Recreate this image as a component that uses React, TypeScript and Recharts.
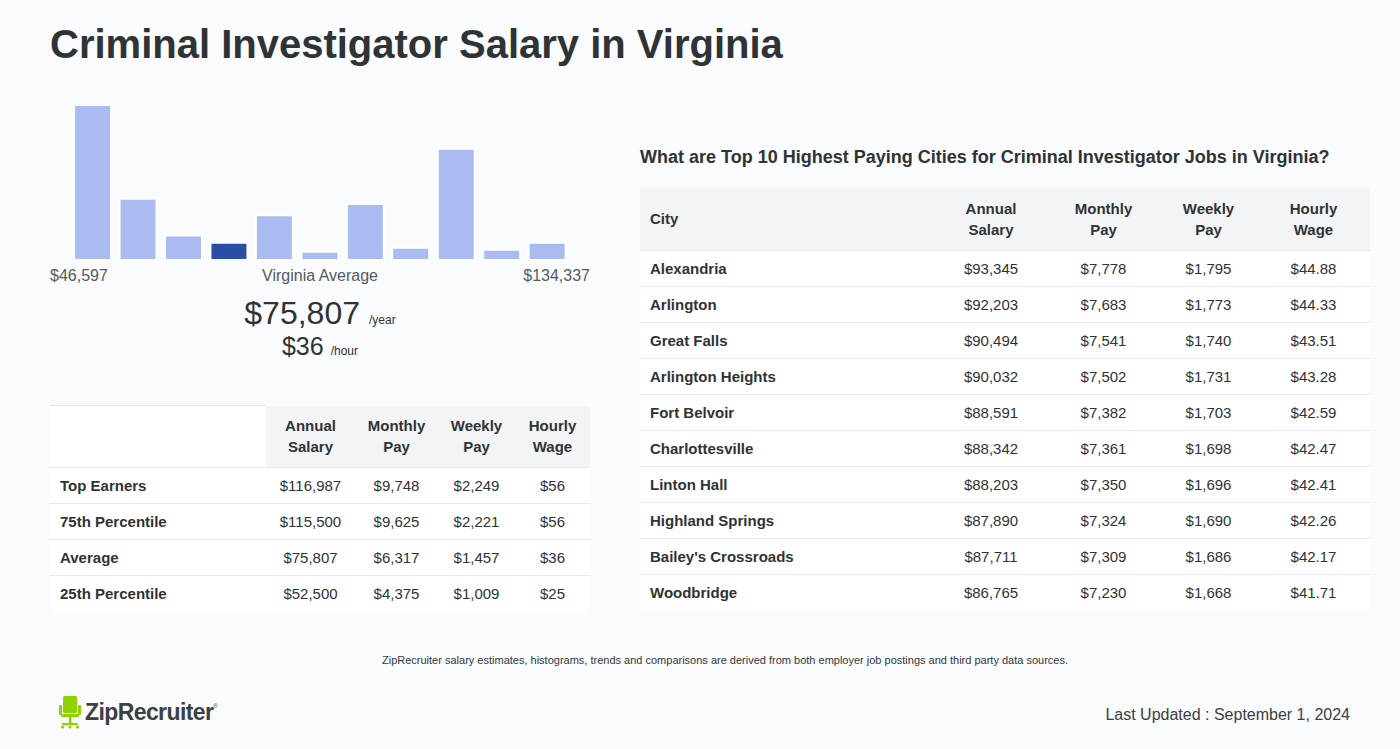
import React from "react";
import { Bar, BarChart, Cell, XAxis, YAxis } from "recharts";

// histogram bins (relative heights)
const binLabels = ["b1", "b2", "b3", "b4", "b5", "b6", "b7", "b8", "b9", "b10", "b11"];
const binCounts = [152, 60, 24, 17, 44, 8, 55, 12, 109, 10, 17];
const highlightBin = 3;

const rangeMin = "$46,597";
const rangeMax = "$134,337";
const avgYear = "$75,807";
const avgHour = "$36";

const payHeaders = [["Annual", "Salary"], ["Monthly", "Pay"], ["Weekly", "Pay"], ["Hourly", "Wage"]];

const percentileNames = ["Top Earners", "75th Percentile", "Average", "25th Percentile"];
const percentileAnnual = ["$116,987", "$115,500", "$75,807", "$52,500"];
const percentileMonthly = ["$9,748", "$9,625", "$6,317", "$4,375"];
const percentileWeekly = ["$2,249", "$2,221", "$1,457", "$1,009"];
const percentileHourly = ["$56", "$56", "$36", "$25"];

const cities = [
  "Alexandria",
  "Arlington",
  "Great Falls",
  "Arlington Heights",
  "Fort Belvoir",
  "Charlottesville",
  "Linton Hall",
  "Highland Springs",
  "Bailey's Crossroads",
  "Woodbridge"
];
const cityAnnual = ["$93,345", "$92,203", "$90,494", "$90,032", "$88,591", "$88,342", "$88,203", "$87,890", "$87,711", "$86,765"];
const cityMonthly = ["$7,778", "$7,683", "$7,541", "$7,502", "$7,382", "$7,361", "$7,350", "$7,324", "$7,309", "$7,230"];
const cityWeekly = ["$1,795", "$1,773", "$1,740", "$1,731", "$1,703", "$1,698", "$1,696", "$1,690", "$1,686", "$1,668"];
const cityHourly = ["$44.88", "$44.33", "$43.51", "$43.28", "$42.59", "$42.47", "$42.41", "$42.26", "$42.17", "$41.71"];

const histData = binLabels.map((bin, i) => ({ bin, count: binCounts[i] }));

const font = '"Liberation Sans", Arial, Helvetica, sans-serif';
const textColor = "#2f3336";
const bg = "#f9fbfd";
const headBg = "#f3f4f6";
const rowLine = "1px solid #e6e8eb";

const thStyle: React.CSSProperties = {
  fontWeight: 700,
  fontSize: 15,
  lineHeight: "21px",
  textAlign: "center",
  background: headBg,
  padding: 0,
  borderBottom: rowLine
};

const tdStyle: React.CSSProperties = {
  fontSize: 15,
  textAlign: "center",
  padding: 0,
  height: 35,
  borderBottom: rowLine,
  background: "#ffffff"
};

function PayTable(props: {
  widths: number[];
  firstHeader: string;
  firstHeaderBg: string;
  names: string[];
  cols: string[][];
}) {
  const { widths, firstHeader, firstHeaderBg, names, cols } = props;
  const total = widths.reduce((a, b) => a + b, 0);
  return (
    <table style={{ borderCollapse: "collapse", tableLayout: "fixed", width: total, color: textColor, fontFamily: font }}>
      <colgroup>
        {widths.map((w, i) => (
          <col key={i} style={{ width: w }} />
        ))}
      </colgroup>
      <thead>
        <tr style={{ height: 62 }}>
          <th style={{ ...thStyle, background: firstHeaderBg, textAlign: "left", paddingLeft: 10, borderTop: firstHeaderBg === headBg ? "none" : rowLine }}>
            {firstHeader}
          </th>
          {payHeaders.map((h) => (
            <th key={h[0]} style={thStyle}>
              {h[0]}
              <br />
              {h[1]}
            </th>
          ))}
        </tr>
      </thead>
      <tbody>
        {names.map((name, r) => {
          const line = r === names.length - 1 ? "none" : rowLine;
          return (
            <tr key={name}>
              <td style={{ ...tdStyle, textAlign: "left", fontWeight: 700, paddingLeft: 10, borderBottom: line }}>{name}</td>
              {cols.map((c, k) => (
                <td key={k} style={{ ...tdStyle, borderBottom: line }}>
                  {c[r]}
                </td>
              ))}
            </tr>
          );
        })}
      </tbody>
    </table>
  );
}

function Logo() {
  return (
    <div style={{ position: "absolute", left: 59, top: 695, display: "flex", alignItems: "center" }}>
      <svg width={22} height={34} viewBox="0 0 22 34">
        <rect x={4} y={1} width={14} height={17} rx={1.5} fill="#8fd400" />
        <rect x={0} y={10} width={3} height={10} rx={1} fill="#8fd400" />
        <rect x={19} y={10} width={3} height={10} rx={1} fill="#8fd400" />
        <rect x={2} y={19} width={18} height={3} rx={1} fill="#8fd400" />
        <rect x={10} y={22} width={2.5} height={7} fill="#8fd400" />
        <rect x={3} y={28} width={16} height={2.2} rx={1} fill="#8fd400" />
        <circle cx={3.5} cy={32} r={1.6} fill="#8fd400" />
        <circle cx={18.5} cy={32} r={1.6} fill="#8fd400" />
        <circle cx={11} cy={32} r={1.6} fill="#8fd400" />
      </svg>
      <span style={{ marginLeft: 4, fontSize: 23, fontWeight: 700, color: "#3b4045", letterSpacing: -0.6, fontFamily: font }}>
        ZipRecruiter
      </span>
      <span style={{ fontSize: 6, color: "#3b4045", alignSelf: "flex-start", marginTop: 8 }}>®</span>
    </div>
  );
}

export default function App() {
  return (
    <div
      style={{
        position: "absolute",
        left: 0,
        top: 0,
        width: 1400,
        height: 749,
        background: bg,
        fontFamily: font,
        color: textColor,
        overflow: "hidden"
      }}
    >
      <div style={{ position: "absolute", left: 50, top: 19, fontSize: 40, fontWeight: 700, lineHeight: "50px" }}>
        Criminal Investigator Salary in Virginia
      </div>

      {/* histogram */}
      <div style={{ position: "absolute", left: 70, top: 105 }}>
        <BarChart width={500} height={155} data={histData} margin={{ top: 0, right: 0, bottom: 0, left: 0 }} barCategoryGap="9%">
          <XAxis dataKey="bin" hide />
          <YAxis hide domain={[0, "dataMax"]} />
          <Bar dataKey="count" isAnimationActive={false} stroke="#ffffff" strokeWidth={2}>
            {histData.map((d, i) => (
              <Cell key={d.bin} fill={i === highlightBin ? "#2a4ea3" : "#a9bbf0"} />
            ))}
          </Bar>
        </BarChart>
      </div>

      <div style={{ position: "absolute", left: 50, top: 267, width: 540, height: 22, fontSize: 16, color: "#555a5e" }}>
        <span style={{ position: "absolute", left: 0 }}>{rangeMin}</span>
        <span style={{ position: "absolute", left: 0, width: 540, textAlign: "center" }}>Virginia Average</span>
        <span style={{ position: "absolute", right: 0 }}>{rangeMax}</span>
      </div>

      <div style={{ position: "absolute", left: 50, top: 295, width: 540, textAlign: "center", whiteSpace: "nowrap" }}>
        <span style={{ fontSize: 32 }}>{avgYear}</span>
        <span style={{ fontSize: 12, marginLeft: 9 }}>/year</span>
      </div>
      <div style={{ position: "absolute", left: 50, top: 332, width: 540, textAlign: "center", whiteSpace: "nowrap" }}>
        <span style={{ fontSize: 25 }}>{avgHour}</span>
        <span style={{ fontSize: 12, marginLeft: 7 }}>/hour</span>
      </div>

      <div style={{ position: "absolute", left: 50, top: 405 }}>
        <PayTable
          widths={[216, 89, 83, 77, 75]}
          firstHeader=""
          firstHeaderBg="#ffffff"
          names={percentileNames}
          cols={[percentileAnnual, percentileMonthly, percentileWeekly, percentileHourly]}
        />
      </div>

      <div style={{ position: "absolute", left: 640, top: 145, fontSize: 18, fontWeight: 700, lineHeight: "24px" }}>
        What are Top 10 Highest Paying Cities for Criminal Investigator Jobs in Virginia?
      </div>

      <div style={{ position: "absolute", left: 640, top: 188 }}>
        <PayTable
          widths={[295, 112, 113, 97, 113]}
          firstHeader="City"
          firstHeaderBg={headBg}
          names={cities}
          cols={[cityAnnual, cityMonthly, cityWeekly, cityHourly]}
        />
      </div>

      <div style={{ position: "absolute", left: 0, top: 654, width: 1450, textAlign: "center", fontSize: 11, color: "#33373a" }}>
        ZipRecruiter salary estimates, histograms, trends and comparisons are derived from both employer job postings and third party data sources.
      </div>

      <Logo />

      <div style={{ position: "absolute", right: 50, top: 706, fontSize: 16, color: "#3b4045" }}>
        Last Updated : September 1, 2024
      </div>
    </div>
  );
}
